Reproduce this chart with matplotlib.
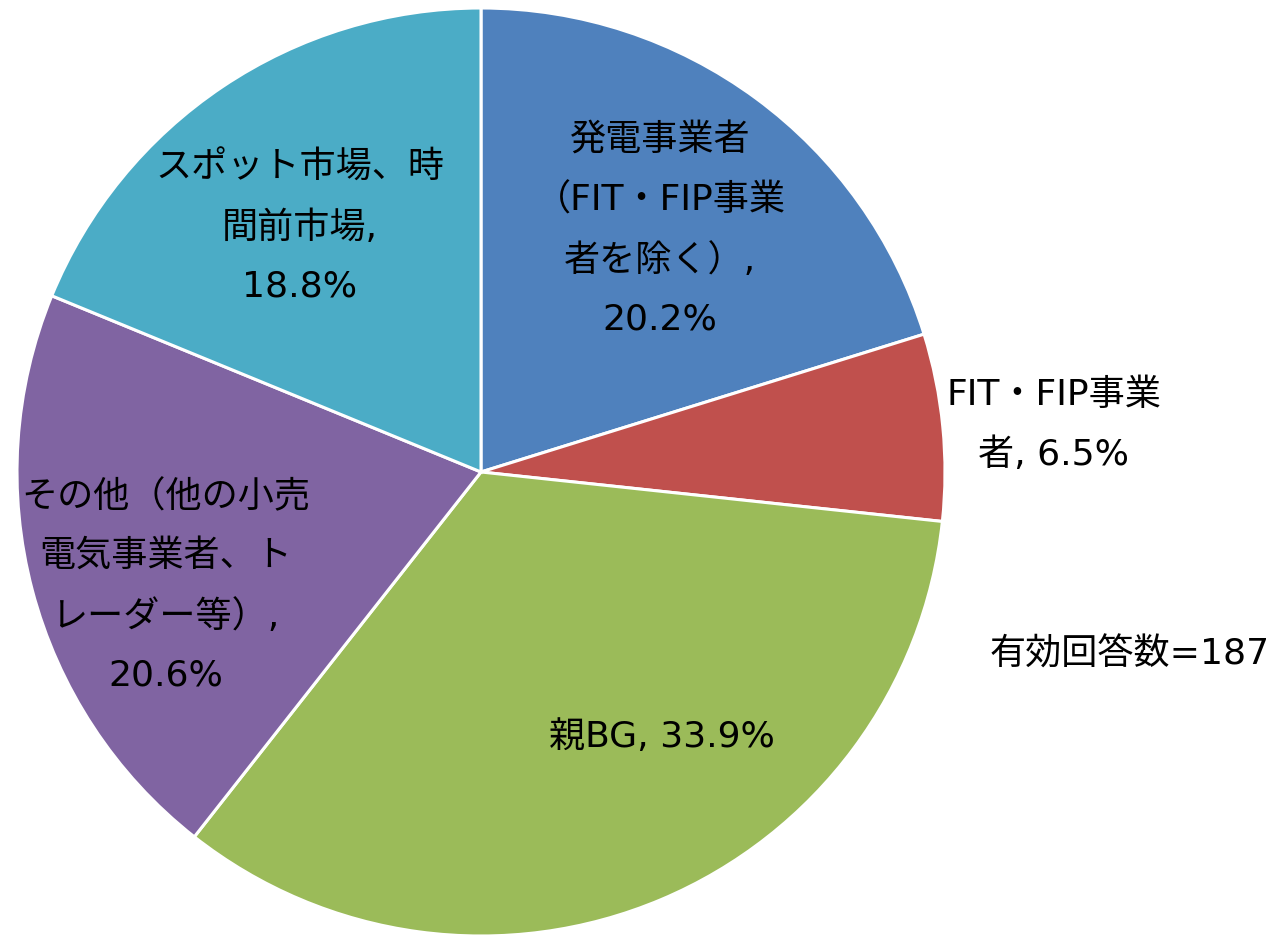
import matplotlib
matplotlib.use("Agg")
import matplotlib.pyplot as plt

plt.rcParams['font.family'] = ['DejaVu Sans', 'Noto Sans CJK JP']

labels = ["発電事業者\n（FIT・FIP事業\n者を除く）,\n20.2%",
          "FIT・FIP事業\n者, 6.5%",
          "親BG, 33.9%",
          "その他（他の小売\n電気事業者、ト\nレーダー等）,\n20.6%",
          "スポット市場、時\n間前市場,\n18.8%"]
shares = [20.2, 6.5, 33.9, 20.6, 18.8]
colors = ["#4F81BD", "#C0504D", "#9BBB59", "#8064A2", "#4BACC6"]
# label centres in pixels of the 1284x936 picture
label_px = [(660, 230), (1054, 425), (662, 737), (166, 586), (300, 227)]
note = "有効回答数=187"

W, H = 1284, 936
cx, cy, r = 481, 472, 464

fig = plt.figure(figsize=(W / 100, H / 100), dpi=100)
ax = fig.add_axes([(cx - r) / W, (H - cy - r) / H, 2 * r / W, 2 * r / H])
ax.pie(shares, colors=colors, startangle=90, counterclock=False,
       wedgeprops=dict(edgecolor="white", linewidth=2.2))
ax.set_xlim(-1, 1)
ax.set_ylim(-1, 1)
ax.set_aspect("equal")

for lab, (px, py) in zip(labels, label_px):
    ax.text((px - cx) / r, (cy - py) / r, lab, ha="center", va="center",
            fontsize=26, linespacing=1.92, color="black", clip_on=False)

fig.text(990 / W, 1 - 655 / H, note, ha="left", va="center", fontsize=26)

fig.savefig("out.png", dpi=100)
